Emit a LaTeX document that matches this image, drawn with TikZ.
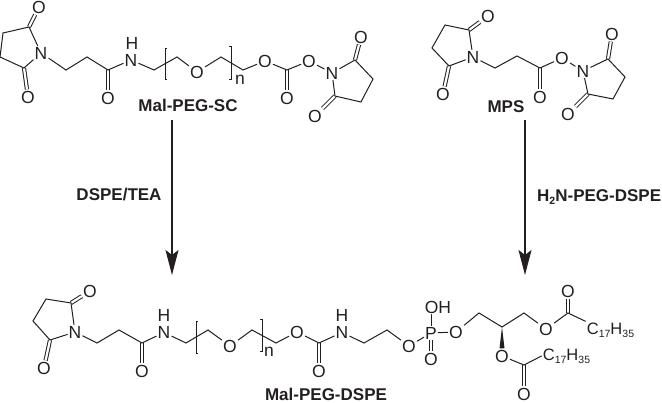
\documentclass[tikz,border=0pt]{standalone}
\usepackage{fontspec}
\setmainfont{Liberation Sans}
\usetikzlibrary{arrows.meta}
\definecolor{ink}{HTML}{231F20}
\newcommand{\subn}[1]{\raisebox{-3pt}{\fontsize{10.5}{12}\selectfont #1}}
\tikzset{
  atom/.style={inner sep=1.2pt,text=ink,font=\fontsize{17.5}{20}\selectfont},
  chain/.style={inner sep=1.2pt,text=ink,font=\fontsize{16.5}{20}\selectfont},
  title/.style={inner sep=0pt,text=ink,font=\fontsize{17}{20}\selectfont\bfseries},
  bond/.style={draw=ink,line width=1pt,line cap=round},
  dbond/.style={draw=ink,line width=1pt,double,double distance=2.2pt},
  rbracket/.style={draw=ink,line width=0.9pt},
  react/.style={draw=ink,line width=1.2pt,-{Stealth[length=25pt,width=13pt,inset=5pt]}}
}
\begin{document}
\begin{tikzpicture}[x=1pt,y=-1pt]
\useasboundingbox (0,0) rectangle (662,403);
% Mal-PEG-SC
\foreach \nm/\txt/\px/\py in {aO1/O/39/7,aN1/N/41/53,aO2/O/28/97,aO3/O/108/98,aN2/N/131/60,aH2/H/132/43,
  aO4/O/197/72,aO5/O/265/61,aO6/O/287/98,aO7/O/309/61,aN3/N/332/73,aO8/O/361/37,aO9/O/315/116} {
\node[atom] (\nm) at (\px,\py) {\txt};
}
\foreach \nm/\px/\py in {aC1/29/27,aC2/3/33,aC3/0/57,aC4/24/68,aC5/66/70,aC6/87/57,aC7/108/70,aC8/154/70,
  aC9/177/57,aC10/221/57,aC11/243/70,aC12/287/70,aC13/355/60,aC14/373/79,aC15/361/102,aC16/335/96} {
\coordinate (\nm) at (\px,\py);
}
\foreach \a/\b in {aC1/aO1,aC4/aO2,aC7/aO3,aC12/aO6,aC13/aO8,aC16/aO9} {
\draw[dbond] (\a) -- (\b);
}
\foreach \a/\b in {aC1/aC2,aC2/aC3,aC3/aC4,aC4/aN1,aN1/aC1,aN1/aC5,aC5/aC6,aC6/aC7,aC7/aN2,aN2/aC8,aC8/aC9,
  aC9/aO4,aO4/aC10,aC10/aC11,aC11/aO5,aO5/aC12,aC12/aO7,aO7/aN3,aN3/aC13,aC13/aC14,aC14/aC15,aC15/aC16,aC16/aN3} {
\draw[bond] (\a) -- (\b);
}
\draw[rbracket] (167,48) -- (165,48) -- (165,79) -- (167,79);
\draw[rbracket] (229,46) -- (231,46) -- (231,79) -- (229,79);
\node[atom] (an) at (240,80) {n};
\node[title] (aname) at (188,105) {Mal-PEG-SC};
% MPS
\foreach \nm/\txt/\px/\py in {bO1/O/488/16,bN1/N/473/57,bO2/O/443/94,bO3/O/540/97,bO4/O/562/58,bN2/N/583/71,
  bO5/O/612/34,bO6/O/568/114} {
\node[atom] (\nm) at (\px,\py) {\txt};
}
\foreach \nm/\px/\py in {bC1/469/30,bC2/445/25,bC3/432/48,bC4/449/66,bC5/495/68,bC6/517/56,bC7/540/68,
  bC8/608/59,bC9/625/77,bC10/613/99,bC11/588/94} {
\coordinate (\nm) at (\px,\py);
}
\foreach \a/\b in {bC1/bO1,bC4/bO2,bC7/bO3,bC8/bO5,bC11/bO6} {
\draw[dbond] (\a) -- (\b);
}
\foreach \a/\b in {bC1/bC2,bC2/bC3,bC3/bC4,bC4/bN1,bN1/bC1,bN1/bC5,bC5/bC6,bC6/bC7,bC7/bO4,bO4/bN2,bN2/bC8,
  bC8/bC9,bC9/bC10,bC10/bC11,bC11/bN2} {
\draw[bond] (\a) -- (\b);
}
\node[title] (bname) at (506,107) {MPS};
% Mal-PEG-DSPE
\foreach \nm/\txt/\px/\py in {cO1/O/90/291,cN1/N/75/332,cO2/O/44/368,cO3/O/142/371,cN2/N/164/332.5,cH2/H/164/315.5,
  cO4/O/230/346,cO5/O/297/332,cO6/O/319/371,cN3/N/342/332.5,cH3/H/342/315.5,cO7/O/409/346,cP/P/431/333,
  cO8/OH/438/307,cO9/O/431/359,cO10/O/456/332,cO11/O/546/329,cO12/O/568/291,cO13/O/502/356,cO14/O/524/394} {
\node[atom] (\nm) at (\px,\py) {\txt};
}
\foreach \nm/\px/\py in {cC1/71/303,cC2/46/299,cC3/33/321,cC4/50/340,cC5/97/343,cC6/119/330,cC7/142/343,
  cC8/186/343,cC9/208/330,cC10/252/330,cC11/276/343,cC12/319/343,cC13/364/343,cC14/387/330,cC15/479/313,
  cC16/502/327,cC17/524/313,cC18/568/313,cC19/524/365} {
\coordinate (\nm) at (\px,\py);
}
\node[chain,anchor=west] (cR1) at (585.5,330) {C\subn{17}H\subn{35}};
\node[chain,anchor=west] (cR2) at (541.5,356) {C\subn{17}H\subn{35}};
\foreach \a/\b in {cC1/cO1,cC4/cO2,cC7/cO3,cC12/cO6,cP/cO9,cC18/cO12,cC19/cO14} {
\draw[dbond] (\a) -- (\b);
}
\foreach \a/\b in {cC1/cC2,cC2/cC3,cC3/cC4,cC4/cN1,cN1/cC1,cN1/cC5,cC5/cC6,cC6/cC7,cC7/cN2,cN2/cC8,cC8/cC9,
  cC9/cO4,cO4/cC10,cC10/cC11,cC11/cO5,cO5/cC12,cC12/cN3,cN3/cC13,cC13/cC14,cC14/cO7,cO7/cP,cP/cO10,cO10/cC15,
  cC15/cC16,cC16/cC17,cC17/cO11,cO11/cC18,cO13/cC19} {
\draw[bond] (\a) -- (\b);
}
\draw[bond] (cC18) -- (cR1.north west);
\draw[bond] (cC19) -- (cR2.west);
\draw[bond] (cP.north) -- (cP.north |- cO8.south);
\fill[ink] (cC16) -- ([xshift=-2.5pt]cO13.north) -- ([xshift=2.5pt]cO13.north) -- cycle;
\draw[rbracket] (198,321) -- (196,321) -- (196,353) -- (198,353);
\draw[rbracket] (260,319) -- (262,319) -- (262,351) -- (260,351);
\node[atom] (cn) at (269,352) {n};
\node[title] (cname) at (326,394) {Mal-PEG-DSPE};
% reactions
\coordinate (lstart) at (172,120);
\coordinate (lend) at (172,275);
\coordinate (rstart) at (525,120);
\coordinate (rend) at (525,275);
\draw[react] (lstart) -- (lend);
\draw[react] (rstart) -- (rend);
\node[title] (lreact) at (119,195) {DSPE/TEA};
\node[title,anchor=west] (rreact) at (537,197) {H\subn{2}N-PEG-DSPE};
\end{tikzpicture}
\end{document}
